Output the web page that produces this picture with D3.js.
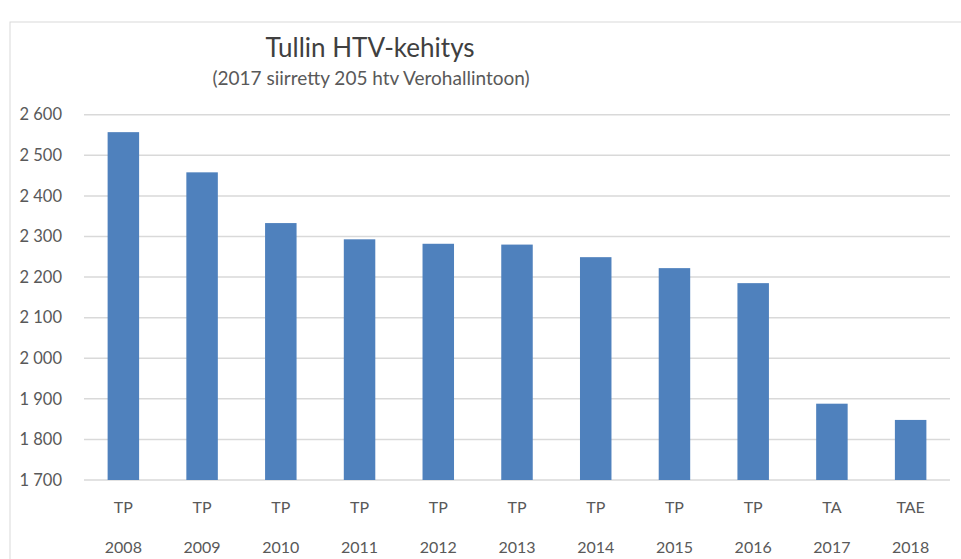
<!DOCTYPE html>
<html lang="fi">
<head>
<meta charset="UTF-8">
<title>Tullin HTV-kehitys</title>
<script src="https://cdn.jsdelivr.net/npm/d3@7"></script>
<style>
body {
    margin: 0;
    background: #fff;
    font-family: 'Lato', 'Open Sans', sans-serif;
}
svg text {
    fill: #595959;
}
</style>
</head>
<body>
<div id="chart"></div>
<script>
// Data
const years = ["2008", "2009", "2010", "2011", "2012", "2013", "2014", "2015", "2016", "2017", "2018"];
const kinds = ["TP", "TP", "TP", "TP", "TP", "TP", "TP", "TP", "TP", "TA", "TAE"];
const htv = [2557, 2458, 2333, 2293, 2282, 2280, 2249, 2222, 2185, 1888, 1848];
const yTicks = [1700, 1800, 1900, 2000, 2100, 2200, 2300, 2400, 2500, 2600];

const width = 961, height = 559;
const plot = { left: 84, right: 950, top: 114.7, bottom: 480 };

const svg = d3.select("#chart").append("svg")
    .attr("width", width).attr("height", height);

// chart frame
svg.append("rect")
    .attr("x", 10).attr("y", 22)
    .attr("width", 960).attr("height", 560)
    .attr("fill", "none")
    .attr("stroke", "#d9d9d9")
    .attr("stroke-width", 1);

const x = d3.scaleBand()
    .domain(years)
    .range([plot.left, plot.right])
    .paddingInner(0.6)
    .paddingOuter(0.3);

const y = d3.scaleLinear()
    .domain([1700, 2600])
    .range([plot.bottom, plot.top]);

// Gridlines
svg.append("g")
    .selectAll("line")
    .data(yTicks)
    .enter().append("line")
    .attr("x1", plot.left).attr("x2", plot.right)
    .attr("y1", d => y(d)).attr("y2", d => y(d))
    .attr("stroke", "#d9d9d9")
    .attr("stroke-width", 1.5);

// Y labels
const fmt = d => d3.format(",")(d).replace(",", " ");
svg.append("g")
    .selectAll("text")
    .data(yTicks)
    .enter().append("text")
    .attr("x", 62)
    .attr("y", d => y(d))
    .attr("dy", "0.35em")
    .attr("text-anchor", "end")
    .attr("font-size", 16.5)
    .text(fmt);

// Bars
svg.append("g")
    .selectAll("rect")
    .data(htv)
    .enter().append("rect")
    .attr("x", (d, i) => x(years[i]))
    .attr("width", x.bandwidth())
    .attr("y", d => y(d))
    .attr("height", d => y(1700) - y(d))
    .attr("fill", "#4f81bd");

// X labels (two rows)
const xl = svg.append("g").attr("text-anchor", "middle").attr("font-size", 16);
xl.selectAll("text.kind")
    .data(kinds)
    .enter().append("text")
    .attr("class", "kind")
    .attr("x", (d, i) => x(years[i]) + x.bandwidth() / 2)
    .attr("y", 513)
    .text(d => d);
xl.selectAll("text.year")
    .data(years)
    .enter().append("text")
    .attr("class", "year")
    .attr("x", d => x(d) + x.bandwidth() / 2)
    .attr("y", 553)
    .text(d => d);

// Title
svg.append("text")
    .attr("x", 370).attr("y", 57)
    .attr("text-anchor", "middle")
    .attr("font-size", 26)
    .style("fill", "#404040")
    .text("Tullin HTV-kehitys");
svg.append("text")
    .attr("x", 371).attr("y", 85)
    .attr("text-anchor", "middle")
    .attr("font-size", 19)
    .text("(2017 siirretty 205 htv Verohallintoon)");
</script>
</body>
</html>
